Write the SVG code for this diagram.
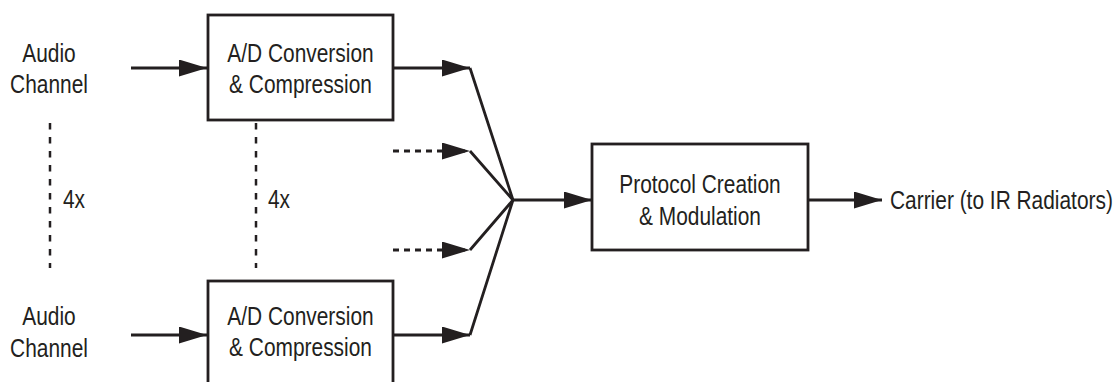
<svg xmlns="http://www.w3.org/2000/svg" width="1117" height="382" viewBox="0 0 1117 382">
  <style>
    text { font-family: "Liberation Sans", Arial, sans-serif; font-size: 25.5px; fill: #231f20; }
    .c { text-anchor: middle; }
    .box { fill: #ffffff; stroke: #231f20; stroke-width: 2.8; }
    .line { fill: none; stroke: #231f20; stroke-width: 2.8; }
    .dash-h { fill: none; stroke: #231f20; stroke-width: 2.8; stroke-dasharray: 6 5; }
    .dash-v { fill: none; stroke: #231f20; stroke-width: 2.5; stroke-dasharray: 6.5 7.5; }
  </style>
  <defs>
    <marker id="arrow" viewBox="0 0 28 17" refX="28" refY="8.5" markerWidth="28" markerHeight="17" markerUnits="userSpaceOnUse" orient="auto">
      <path d="M0,0 L28,8.5 L0,17 Z" fill="#231f20"/>
    </marker>
  </defs>

  <rect width="1117" height="382" fill="#ffffff"/>

  <!-- Connectors -->
  <g id="connectors">
    <line class="line" x1="131" y1="68" x2="207" y2="68" marker-end="url(#arrow)"/>
    <line class="line" x1="131" y1="335" x2="207" y2="335" marker-end="url(#arrow)"/>
    <line class="line" x1="394" y1="68" x2="470" y2="68" marker-end="url(#arrow)"/>
    <line class="dash-h" x1="393" y1="151" x2="470" y2="151" marker-end="url(#arrow)"/>
    <line class="dash-h" x1="393" y1="250" x2="470" y2="250" marker-end="url(#arrow)"/>
    <line class="line" x1="394" y1="335" x2="470" y2="335" marker-end="url(#arrow)"/>
    <polyline class="line" points="470,68 513,200 470,151"/>
    <polyline class="line" points="470,250 513,200 470,335"/>
    <line class="line" x1="512" y1="200" x2="592" y2="200" marker-end="url(#arrow)"/>
    <line class="line" x1="808" y1="200" x2="882" y2="200" marker-end="url(#arrow)"/>
    <line class="dash-v" x1="50" y1="123" x2="50" y2="268"/>
    <line class="dash-v" x1="256" y1="123" x2="256" y2="268"/>
  </g>

  <!-- Inputs (narrow lettering: glyphs scaled to 82% width) -->
  <g id="input-top">
    <text class="c" transform="translate(49 62) scale(0.82 1)">Audio</text>
    <text class="c" transform="translate(49 93) scale(0.82 1)">Channel</text>
  </g>
  <g id="input-bottom">
    <text class="c" transform="translate(49 325) scale(0.82 1)">Audio</text>
    <text class="c" transform="translate(49 357) scale(0.82 1)">Channel</text>
  </g>

  <g id="count-inputs">
    <text transform="translate(63 208) scale(0.82 1)">4x</text>
  </g>
  <g id="count-converters">
    <text transform="translate(268 208) scale(0.82 1)">4x</text>
  </g>

  <!-- Converters -->
  <g id="adc-top">
    <rect class="box" x="208" y="15" width="185" height="105"/>
    <text class="c" transform="translate(300.5 62) scale(0.82 1)">A/D Conversion</text>
    <text class="c" transform="translate(300.5 93) scale(0.82 1)">&amp; Compression</text>
  </g>
  <g id="adc-bottom">
    <rect class="box" x="208" y="281" width="185" height="110"/>
    <text class="c" transform="translate(300.5 325) scale(0.82 1)">A/D Conversion</text>
    <text class="c" transform="translate(300.5 356) scale(0.82 1)">&amp; Compression</text>
  </g>

  <!-- Protocol stage -->
  <g id="protocol">
    <rect class="box" x="592" y="144" width="216" height="106"/>
    <text class="c" transform="translate(700 193) scale(0.82 1)">Protocol Creation</text>
    <text class="c" transform="translate(700 225) scale(0.82 1)">&amp; Modulation</text>
  </g>

  <g id="output">
    <text transform="translate(890 209) scale(0.82 1)">Carrier (to IR Radiators)</text>
  </g>
</svg>
